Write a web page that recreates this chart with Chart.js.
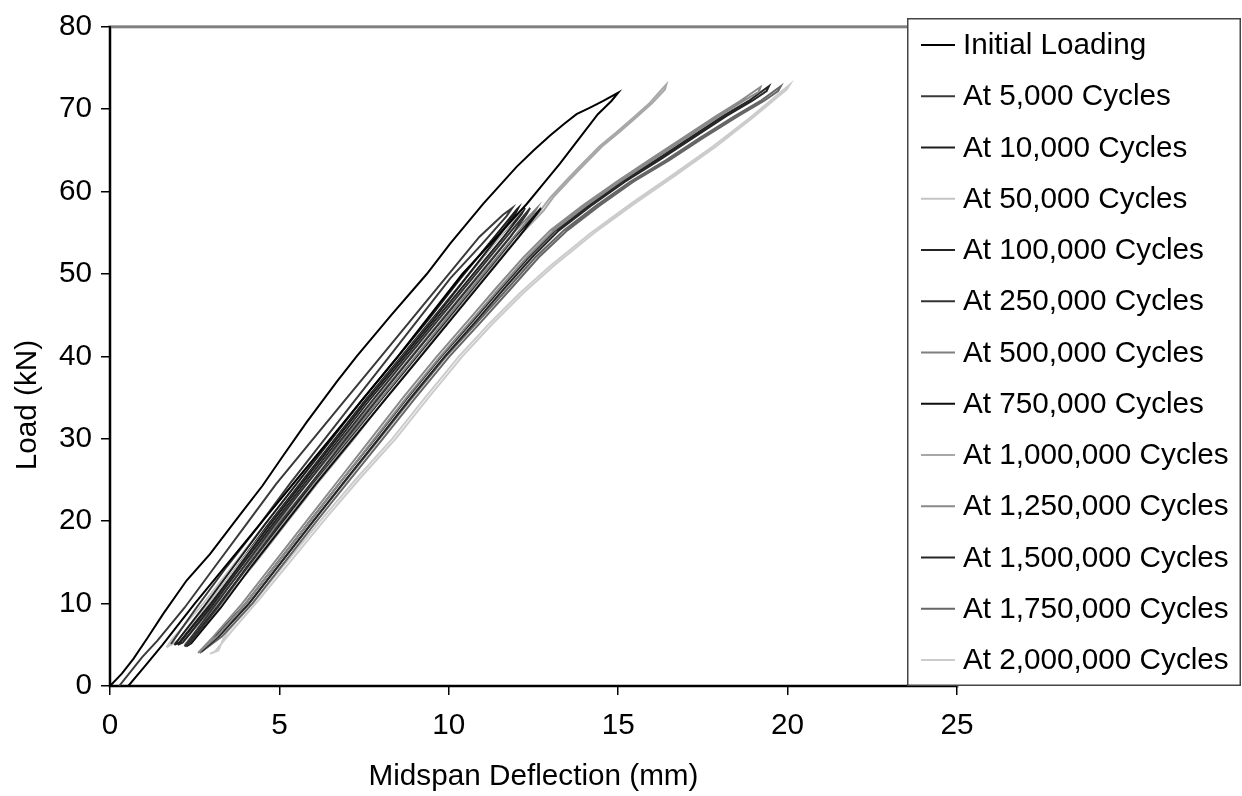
<!DOCTYPE html>
<html><head><meta charset="utf-8">
<script src="https://cdn.jsdelivr.net/npm/chart.js@4/dist/chart.umd.min.js"></script>
<style>html,body{margin:0;padding:0;background:#fff}#wrap{width:1242px;height:796px;position:relative}</style>
</head><body><div id="wrap"><canvas id="c" width="1242" height="796"></canvas></div>
<script>
// ---------- DATA ----------
const seriesLabels = [
  "Initial Loading","At 5,000 Cycles","At 10,000 Cycles","At 50,000 Cycles",
  "At 100,000 Cycles","At 250,000 Cycles","At 500,000 Cycles","At 750,000 Cycles",
  "At 1,000,000 Cycles","At 1,250,000 Cycles","At 1,500,000 Cycles",
  "At 1,750,000 Cycles","At 2,000,000 Cycles"
];
const seriesColors = ["#000000","#3a3a3a","#1e1e1e","#c4c4c4","#242424","#333333",
  "#7f7f7f","#0e0e0e","#a8a8a8","#8a8a8a","#262626","#666666","#cccccc"];

// [deflection mm, load kN]
const initialLoading = [[0,0],[0.35,1.5],[0.69,3.3],[1.1,5.8],[1.57,8.75],[2.26,12.8],[2.95,16.0],
  [3.84,20.8],[4.5,24.3],[5.12,28.0],[5.8,32.0],[6.69,36.9],[7.28,40],[8.3,45],[9.35,50],[10.04,53.7],
  [11.02,58.55],[12.0,63.0],[12.5,65.0],[12.99,66.8],[13.4,68.2],[13.77,69.4],[14.17,70.2],[14.56,71.0],[15.0,72.0],
  [14.8,71],[14.4,69.4],[13.8,66.2],[13.28,63.4],[12.8,61],[12.3,58.5],[11.3,54],[10.4,50],[9.45,45],
  [8.5,40],[7.5,35],[6.5,30],[5.5,25],[4.5,20],[3.5,15],[2.5,10],[1.55,5],[1.05,2.5],[0.54,0]];
const c5000 = [[0.27,0],[0.95,3.5],[1.4,5.5],[2.2,9.5],[3.1,14.5],[4.0,19.5],[4.9,24.5],[5.9,29.5],
  [6.9,34.5],[7.9,39.5],[8.9,44.5],[9.9,49.5],[10.9,54.5],[11.6,57.2],[11.87,58],
  [11.7,57],[10.95,53.5],[10.05,49.5],[9.1,44.5],[8.15,39.5],[7.2,34.5],[6.25,29.5],[5.3,24.5],
  [4.4,19.5],[3.45,14.5],[2.55,9.5],[1.95,6],[1.8,5.1]];
const c10000 = [[1.9,5],[2.75,9.5],[3.65,14.5],[4.55,19.5],[5.5,24.5],[6.45,29.5],[7.4,34.5],[8.4,39.5],
  [9.4,44.5],[10.35,49.5],[11.35,54.5],[12.0,57.8],[12.05,58],
  [11.95,57.2],[11.45,54.5],[10.5,49.5],[9.55,44.5],[8.55,39.5],[7.55,34.5],[6.6,29.5],[5.65,24.5],
  [4.7,19.5],[3.8,14.5],[2.9,9.5],[2.05,5.3],[1.9,5]];
const c50000 = [[1.67,4.7],[1.8,5.5],[2.75,10],[3.7,15],[4.65,20],[5.6,25],[6.55,30],[7.5,35],[8.5,40],
  [9.5,45],[10.45,50],[11.45,55],[12.2,58],
  [11.6,55],[10.6,50],[9.65,45],[8.65,40],[7.65,35],[6.7,30],[5.75,25],[4.8,20],[3.85,15],[2.9,10],
  [2.0,5.5],[1.67,4.7]];
const c100000 = [[2.0,5],[2.85,9.5],[3.75,14.5],[4.65,19.5],[5.6,24.5],[6.55,29.5],[7.5,34.5],[8.5,39.5],
  [9.5,44.5],[10.5,49.5],[11.5,54.5],[12.25,58],
  [12.15,57.3],[11.62,54.5],[10.62,49.5],[9.62,44.5],[8.62,39.5],[7.62,34.5],[6.67,29.5],[5.72,24.5],
  [4.77,19.5],[3.87,14.5],[2.97,9.5],[2.15,5.3],[2.0,5]];
const c250000 = [[2.2,4.8],[3.05,9.5],[3.95,14.5],[4.85,19.5],[5.8,24.5],[6.75,29.5],[7.72,34.5],[8.7,39.5],
  [9.7,44.5],[10.7,49.5],[11.7,54.5],[12.4,58],
  [12.3,57.3],[11.82,54.5],[10.82,49.5],[9.82,44.5],[8.82,39.5],[7.84,34.5],[6.87,29.5],[5.92,24.5],
  [4.97,19.5],[4.07,14.5],[3.17,9.5],[2.35,5.2],[2.2,4.8]];
const c500000 = [[2.1,5.5],[3.0,10],[3.95,15],[4.9,20],[5.9,25],[6.9,30],[7.9,35],[8.9,40],[9.9,45],
  [10.9,50],[11.9,55],[12.6,58],
  [12.5,57.3],[12.02,55],[11.02,50],[10.02,45],[9.02,40],[8.02,35],[7.02,30],[6.02,25],[5.02,20],
  [4.07,15],[3.12,10],[2.25,5.8],[2.1,5.5]];
const c750000 = [[2.25,4.8],[3.15,9.5],[4.05,14.5],[5.0,19.5],[5.95,24.5],[6.95,29.5],[7.95,34.5],
  [8.95,39.5],[9.95,44.5],[10.95,49.5],[11.95,54.5],[12.72,58],
  [12.6,57.3],[12.07,54.5],[11.07,49.5],[10.07,44.5],[9.07,39.5],[8.07,34.5],[7.07,29.5],[6.07,24.5],
  [5.12,19.5],[4.17,14.5],[3.27,9.5],[2.4,5.2],[2.25,4.8]];
const c1000000 = [[2.2,5],[3.2,10],[4.2,15],[5.15,20],[6.1,25],[7.1,30],[8.05,35],[9.05,40],[10.0,45],
  [11.0,50],[11.95,54.5],[12.7,57.7],[13.0,59.3],[13.5,61.5],[13.97,63.5],[14.45,65.5],[14.95,67.2],
  [15.45,69],[15.94,70.8],[16.2,72],[16.42,73.0],
  [16.38,72.4],[16.02,70.8],[15.53,69],[15.03,67.2],[14.53,65.5],[14.05,63.5],[13.58,61.5],[13.08,59.3],
  [12.8,57.7],[12.05,54.5],[11.1,50],[10.1,45],[9.15,40],[8.15,35],[7.2,30],[6.2,25],[5.25,20],[4.3,15],
  [3.3,10],[2.35,5.3],[2.2,5]];
const c1250000 = [[2.6,4],[3.05,6],[3.9,10],[4.85,15],[5.8,20],[6.75,25],[7.7,30],[8.65,35],[9.65,40],
  [10.6,44.5],[11.4,48.3],[12.2,52],[13.0,55.3],[13.95,58.3],[14.95,61.2],[15.9,63.8],[16.9,66.5],
  [17.9,69.2],[18.6,71],[19.2,72.7],
  [19.15,72.1],[18.7,71],[18.0,69.2],[17.0,66.5],[16.0,63.8],[15.05,61.2],[14.05,58.3],[13.1,55.3],
  [12.3,52],[11.5,48.3],[10.7,44.5],[9.75,40],[8.75,35],[7.8,30],[6.85,25],[5.9,20],[4.95,15],[4.0,10],
  [3.15,6],[2.6,4]];
const c1500000 = [[2.7,4.2],[3.15,6.2],[4.0,10],[4.95,15],[5.9,20],[6.85,25],[7.82,30],[8.78,35],[9.78,40],
  [10.75,44.5],[11.55,48.3],[12.35,52],[13.15,55.3],[14.1,58.3],[15.1,61.2],[16.1,63.8],[17.1,66.5],
  [18.1,69.2],[18.85,71],[19.45,72.8],
  [19.38,72.2],[18.95,71],[18.2,69.2],[17.2,66.5],[16.2,63.8],[15.2,61.2],[14.2,58.3],[13.25,55.3],
  [12.45,52],[11.65,48.3],[10.85,44.5],[9.88,40],[8.88,35],[7.92,30],[6.95,25],[6.0,20],[5.05,15],
  [4.1,10],[3.25,6.2],[2.7,4.2]];
const c1750000 = [[2.65,4],[3.2,6],[4.1,10],[5.05,15],[6.0,20],[6.97,25],[7.95,30],[8.92,35],[9.92,40],
  [10.92,44.5],[11.75,48.3],[12.55,52],[13.4,55.3],[14.35,58.3],[15.35,61.2],[16.4,63.8],[17.4,66.5],
  [18.45,69.2],[19.2,71],[19.8,72.8],
  [19.72,72.2],[19.3,71],[18.55,69.2],[17.5,66.5],[16.5,63.8],[15.45,61.2],[14.45,58.3],[13.5,55.3],
  [12.65,52],[11.85,48.3],[11.02,44.5],[10.02,40],[9.02,35],[8.05,30],[7.07,25],[6.1,20],[5.15,15],
  [4.2,10],[3.3,6],[2.65,4]];
const c2000000 = [[2.95,3.9],[3.2,4.3],[3.35,5.8],[3.5,6.7],[4.3,10.5],[5.3,15.5],[6.3,20.5],[7.3,25.3],
  [8.33,30],[9.3,35],[10.3,40],[11.2,44],[12.1,47.7],[13.0,51],[14.2,55],[15.4,58.6],[16.6,62],
  [17.8,65.5],[18.9,69],[20.07,73],
  [19.98,72.4],[18.98,69],[17.9,65.5],[16.7,62],[15.5,58.6],[14.3,55],[13.1,51],[12.2,47.7],[11.3,44],
  [10.4,40],[9.4,35],[8.43,30],[7.4,25.3],[6.4,20.5],[5.4,15.5],[4.4,10.5],[3.6,6.7],[3.1,4.2],[2.95,3.9]];

const seriesData = [initialLoading,c5000,c10000,c50000,c100000,c250000,c500000,c750000,
  c1000000,c1250000,c1500000,c1750000,c2000000];

const xAxisRange = [0, 25], xStep = 5;
const yAxisRange = [0, 80], yStep = 10;
const xTitle = "Midspan Deflection (mm)";
const yTitle = "Load (kN)";

// ---------- CHART ----------
const FONT = "'Liberation Sans', Arial, Helvetica, sans-serif";
const FS = 29.7;

const plotFrame = {
  id: 'plotFrame',
  beforeDraw(chart) {
    const a = chart.chartArea, ctx = chart.ctx;
    ctx.save();
    ctx.strokeStyle = '#808080';
    ctx.lineWidth = 3;
    ctx.strokeRect(a.left, a.top, a.right - a.left, a.bottom - a.top);
    ctx.restore();
  }
};

const yTitlePlugin = {
  id: 'yTitlePlugin',
  afterDraw(chart) {
    const ctx = chart.ctx;
    ctx.save();
    ctx.translate(28, 405);
    ctx.rotate(-Math.PI / 2);
    ctx.font = FS + "px " + FONT;
    ctx.fillStyle = '#000';
    ctx.textAlign = 'center';
    ctx.textBaseline = 'middle';
    ctx.fillText(yTitle, 0, 0);
    ctx.restore();
  }
};

const boxLegend = {
  id: 'boxLegend',
  afterDraw(chart) {
    const ctx = chart.ctx;
    const x0 = 907, y0 = 18, w = 334, h = 668;
    ctx.save();
    ctx.fillStyle = '#ffffff';
    ctx.fillRect(x0, y0, w, h);
    ctx.strokeStyle = '#444';
    ctx.lineWidth = 1.5;
    ctx.strokeRect(x0 + 0.75, y0 + 0.75, w - 1.5, h - 1.5);
    ctx.font = FS + "px " + FONT;
    ctx.textBaseline = 'middle';
    ctx.textAlign = 'left';
    chart.data.datasets.forEach((ds, i) => {
      const cy = 45 + i * 51.25;
      ctx.strokeStyle = ds.borderColor;
      ctx.lineWidth = 2;
      ctx.beginPath();
      ctx.moveTo(921, cy); ctx.lineTo(955, cy);
      ctx.stroke();
      ctx.fillStyle = '#000';
      ctx.fillText(ds.label, 963, cy + 1);
    });
    ctx.restore();
  }
};

const datasets = seriesData.map((pts, i) => ({
  label: seriesLabels[i],
  data: pts.map(p => ({x: p[0], y: p[1]})),
  borderColor: seriesColors[i],
  backgroundColor: seriesColors[i],
  borderWidth: 2,
  showLine: true,
  pointRadius: 0,
  tension: 0,
  fill: false
}));

new Chart(document.getElementById('c'), {
  type: 'scatter',
  data: { datasets },
  plugins: [plotFrame, yTitlePlugin, boxLegend],
  options: {
    responsive: false,
    devicePixelRatio: 1,
    animation: false,
    layout: { padding: { left: 0, top: 22, right: 285, bottom: 0 } },
    plugins: { legend: { display: false }, tooltip: { enabled: false } },
    scales: {
      x: {
        type: 'linear', min: xAxisRange[0], max: xAxisRange[1],
        afterFit(s) { s.height = 110; },
        ticks: { stepSize: xStep, color: '#000', font: { family: FONT, size: FS }, padding: 13, maxRotation: 0 },
        grid: { display: true, drawOnChartArea: false, drawTicks: true, tickLength: 9, color: '#000', lineWidth: 1.5 },
        border: { display: true, color: '#000', width: 2 },
        title: { display: true, text: xTitle, color: '#000', font: { family: FONT, size: FS }, padding: { top: 0, bottom: 1 } }
      },
      y: {
        type: 'linear', min: yAxisRange[0], max: yAxisRange[1],
        afterFit(s) { s.width = 110; },
        ticks: { stepSize: yStep, color: '#000', font: { family: FONT, size: FS }, padding: 9 },
        grid: { display: true, drawOnChartArea: false, drawTicks: true, tickLength: 9, color: '#000', lineWidth: 1.5 },
        border: { display: true, color: '#000', width: 2 },
        title: { display: false }
      }
    }
  }
});
</script>
</body></html>
